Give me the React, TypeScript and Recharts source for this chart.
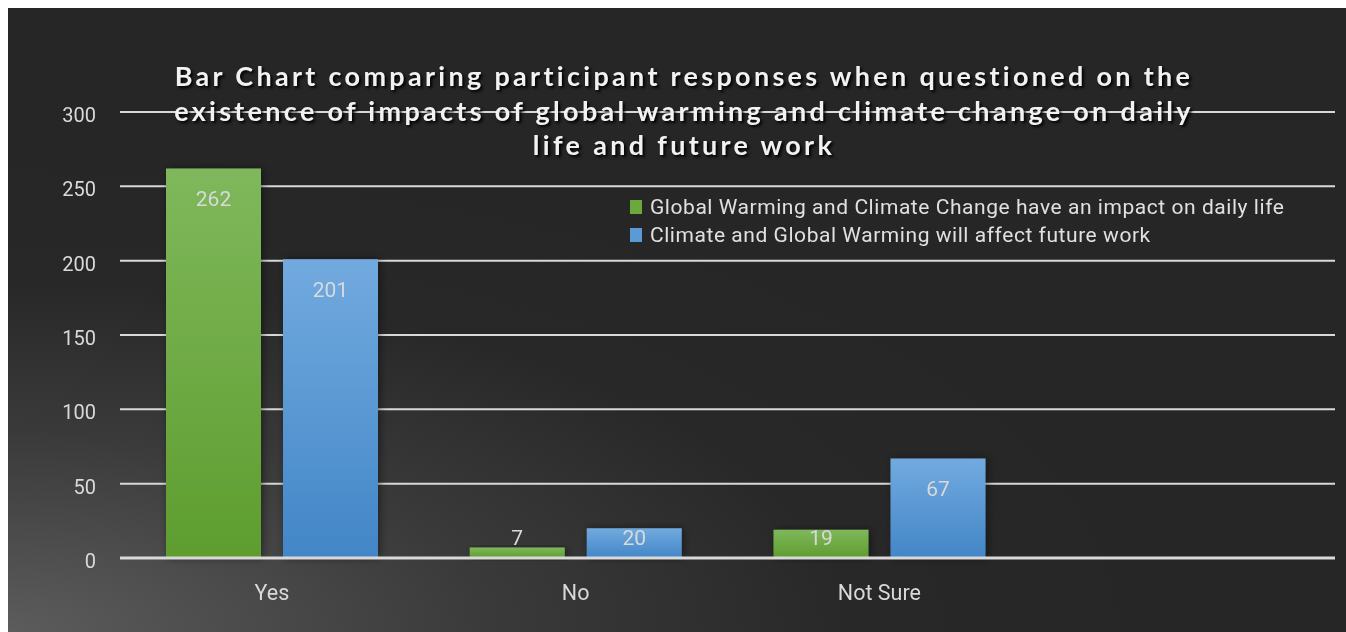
import React from "react";
import { BarChart, Bar, XAxis, YAxis, CartesianGrid, LabelList } from "recharts";

const categories = ["Yes", "No", "Not Sure", ""];
const dailyLife = [262, 7, 19, null];
const futureWork = [201, 20, 67, null];
const yTicks = [0, 50, 100, 150, 200, 250, 300];
const seriesNames = [
  "Global Warming and Climate Change have an impact on daily life",
  "Climate and Global Warming will affect future work",
];
const seriesColors = ["#6aaa3a", "#5b9bd5"];
const titleLines = [
  "Bar Chart comparing participant responses when questioned on the",
  "existence of impacts of global warming and climate change on daily",
  "life and future work",
];

const data = categories.map((c, i) => ({ name: c, daily: dailyLife[i], future: futureWork[i] }));

const FONT = "Roboto, 'Noto Sans', sans-serif";

const renderLabel = (props: any) => {
  const { x, y, width, height, value } = props;
  if (value == null) return null;
  const cy = Math.min(y + 31, y + height - 20);
  return (
    <text x={x + width / 2} y={cy} fill="#d9d9d9" fontSize={21} fontFamily={FONT} textAnchor="middle" dominantBaseline="central">
      {value}
    </text>
  );
};

export default function App() {
  return (
    <div
      style={{
        position: "fixed",
        left: 8,
        top: 8,
        width: 1338,
        height: 624,
        overflow: "hidden",
        background: "radial-gradient(ellipse 90% 80% at 0% 100%, #5c5c5c 0%, #3a3a3a 40%, #282828 70%, #262626 100%)",
      }}
    >
      <BarChart
        width={1338}
        height={624}
        data={data}
        margin={{ top: 104, right: 11, bottom: 44, left: 0 }}
        barSize={95}
        barGap={22}
      >
        <defs>
          <linearGradient id="gGreen" x1="0" y1="0" x2="0" y2="1">
            <stop offset="0%" stopColor="#7fb85c" />
            <stop offset="100%" stopColor="#5e9d2e" />
          </linearGradient>
          <linearGradient id="gBlue" x1="0" y1="0" x2="0" y2="1">
            <stop offset="0%" stopColor="#72aadf" />
            <stop offset="100%" stopColor="#4286c7" />
          </linearGradient>
          <filter id="shadow" x="-20%" y="-20%" width="140%" height="140%">
            <feDropShadow dx="2" dy="0" stdDeviation="4" floodColor="#000" floodOpacity="0.45" />
          </filter>
        </defs>
        <CartesianGrid vertical={false} stroke="#d9d9d9" strokeWidth={2} />
        <XAxis
          dataKey="name"
          height={30}
          axisLine={{ stroke: "#d9d9d9", strokeWidth: 3 }}
          tickLine={false}
          tickSize={0}
          tickMargin={27}
          tick={{ fill: "#d9d9d9", fontSize: 21.5, fontFamily: FONT }}
        />
        <YAxis
          domain={[0, 300]}
          ticks={yTicks}
          width={112}
          axisLine={false}
          tickLine={false}
          tickSize={0}
          tickMargin={24}
          tick={{ fill: "#d9d9d9", fontSize: 20, fontFamily: FONT, dy: 3 }}
        />
        <Bar dataKey="daily" name={seriesNames[0]} fill="url(#gGreen)" isAnimationActive={false} style={{ filter: "url(#shadow)" }}>
          <LabelList dataKey="daily" content={renderLabel} />
        </Bar>
        <Bar dataKey="future" name={seriesNames[1]} fill="url(#gBlue)" isAnimationActive={false} style={{ filter: "url(#shadow)" }}>
          <LabelList dataKey="future" content={renderLabel} />
        </Bar>
      </BarChart>
      <div
        style={{
          position: "absolute",
          left: 622,
          top: 185,
          fontFamily: FONT,
          fontSize: 21,
          letterSpacing: 0.55,
          color: "#e0e0e0",
          lineHeight: "28px",
        }}
      >
        {seriesNames.map((n, i) => (
          <div key={n} style={{ display: "flex", alignItems: "center", whiteSpace: "nowrap" }}>
            <span style={{ display: "inline-block", width: 12, height: 14, background: seriesColors[i], marginRight: 8 }} />
            {n}
          </div>
        ))}
      </div>
      <div
        style={{
          position: "absolute",
          left: 0,
          width: 1352,
          top: 51,
          textAlign: "center",
          fontFamily: "Lato, 'Open Sans', sans-serif",
          fontWeight: 700,
          fontSize: 27,
          letterSpacing: 3.3,
          lineHeight: "34.5px",
          color: "#f2f2f2",
          textShadow: "2px 2px 3px #000",
          pointerEvents: "none",
        }}
      >
        {titleLines.map((l) => (
          <div key={l}>{l}</div>
        ))}
      </div>
    </div>
  );
}
